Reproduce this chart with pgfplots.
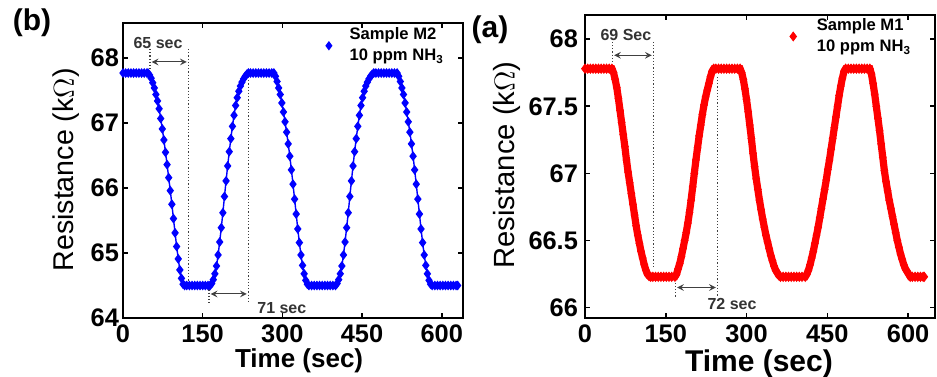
\documentclass[border=0pt]{standalone}
\usepackage{pgfplots}
\pgfplotsset{compat=1.18}
\usepackage{fontspec}
\setmainfont{Liberation Sans}
\newcommand\tickfont{\fontsize{12.7}{15}\selectfont\bfseries}
\newcommand\annfont{\fontsize{8}{9}\selectfont\bfseries}
\pgfplotsset{
  common/.style={
    scale only axis, clip=false,
    tick align=inside, major tick length=2.5pt,
    xtick={0,150,300,450,600},
    axis line style={line width=0.9pt},
    every tick/.style={black, line width=0.8pt},
    tick label style={font=\tickfont},
    /pgf/number format/assume math mode=true,
    legend style={draw=none, fill=none, inner sep=0pt, font=\fontsize{8.3}{9}\selectfont\bfseries},
    legend cell align=left,
  },
}
\tikzset{
  ann/.style={densely dotted, black!75, line width=0.6pt},
  arr/.style={<->, >=stealth, black!75, line width=0.5pt},
}
\begin{document}
\begin{tikzpicture}
\useasboundingbox (0,0) rectangle (468.5pt,188pt);
\node[font=\fontsize{15}{17}\selectfont\bfseries] at (16pt,176.5pt) {(b)};
\node[font=\fontsize{15}{17}\selectfont\bfseries] at (245pt,173pt) {(a)};
% ---------------- left panel (M2)
\begin{axis}[common,
  at={(61.5pt,29pt)}, anchor=south west,
  width=170pt, height=147.5pt,
  xmin=0, xmax=640, ymin=64, ymax=68.54,
  ytick={64,65,66,67,68},
  yticklabel style={xshift=1.5pt},
  xlabel={\bfseries Time (sec)},
  xlabel style={font=\fontsize{13}{15}\selectfont, at={(axis description cs:0.518,-0.145)}, anchor=center},
  ylabel={Resistance (k$\Omega$)},
  ylabel style={font=\fontsize{14.3}{16}\selectfont, at={(axis description cs:-0.166,0.502)}, anchor=center, rotate=0},
  legend style={at={(axis cs:378,68.19)}, anchor=west},
  legend image code/.code={\draw[#1, mark size=1.8pt] plot coordinates {(0pt,0pt)}; \path (-2pt,0pt) (8pt,0pt);},
]
\addplot[blue, line width=0.7pt, mark=diamond*, mark size=1.9pt, mark options={blue}] coordinates {
(0,67.77)(5,67.77)(10,67.77)(15,67.77)(20,67.77)(25,67.77)(30,67.77)(35,67.77)(40,67.77)(45,67.77)
(47,67.77)(50,67.74)(53,67.69)(56,67.62)(59,67.54)(62,67.44)(65,67.34)(68,67.22)(71,67.07)(74,66.91)(77,66.74)(80,66.55)(83,66.36)(86,66.16)(89,65.96)(92,65.75)(95,65.53)(98,65.31)(101,65.10)(104,64.91)(107,64.74)(110,64.61)(113,64.52)(116,64.50)
(120,64.50)(125,64.50)(130,64.50)(135,64.50)(140,64.50)(145,64.50)(150,64.50)(155,64.50)(160,64.50)
(164,64.50)(167,64.53)(170,64.59)(173,64.68)(176,64.80)(179,64.97)(182,65.17)(185,65.39)(188,65.62)(191,65.87)(194,66.11)(197,66.34)(200,66.56)(203,66.76)(206,66.95)(209,67.12)(212,67.27)(215,67.39)(218,67.49)(221,67.57)(224,67.63)(227,67.68)(230,67.72)(233,67.75)(236,67.77)
(240,67.77)(245,67.77)(250,67.77)(255,67.77)(260,67.77)(265,67.77)(270,67.77)(275,67.77)(280,67.77)
(284,67.77)(287,67.72)(290,67.64)(293,67.54)(296,67.44)(299,67.31)(302,67.17)(305,67.02)(308,66.86)(311,66.68)(314,66.49)(317,66.28)(320,66.06)(323,65.83)(326,65.60)(329,65.37)(332,65.16)(335,64.97)(338,64.81)(341,64.68)(344,64.58)(347,64.52)(350,64.50)
(355,64.50)(360,64.50)(365,64.50)(370,64.50)(375,64.50)(380,64.50)(385,64.50)(390,64.50)(395,64.50)
(400,64.50)(403,64.53)(406,64.59)(409,64.68)(412,64.80)(415,64.97)(418,65.17)(421,65.39)(424,65.62)(427,65.87)(430,66.11)(433,66.34)(436,66.56)(439,66.76)(442,66.95)(445,67.12)(448,67.27)(451,67.39)(454,67.49)(457,67.57)(460,67.63)(463,67.68)(466,67.72)(469,67.75)(472,67.77)
(476,67.77)(481,67.77)(486,67.77)(491,67.77)(496,67.77)(501,67.77)(506,67.77)(511,67.77)
(516,67.77)(519,67.72)(522,67.64)(525,67.54)(528,67.44)(531,67.31)(534,67.17)(537,67.02)(540,66.86)(543,66.68)(546,66.49)(549,66.28)(552,66.06)(555,65.83)(558,65.60)(561,65.37)(564,65.16)(567,64.97)(570,64.81)(573,64.68)(576,64.58)(579,64.52)(582,64.50)
(587,64.50)(592,64.50)(597,64.50)(602,64.50)(607,64.50)(612,64.50)(617,64.50)(622,64.50)(627,64.50)(630,64.50)
};
\addlegendentry{\shortstack[l]{Sample M2\\10 ppm NH\textsubscript{3}}}
\draw[ann] (axis cs:51,68.14) -- (axis cs:51,67.82);
\draw[ann] (axis cs:123,68.14) -- (axis cs:123,64.55);
\draw[arr] (axis cs:54,67.94) -- (axis cs:120,67.94);
\node[font=\annfont, text=black!80] at (axis cs:66,68.23) {65 sec};
\draw[ann] (axis cs:162,64.54) -- (axis cs:162,64.23);
\draw[ann] (axis cs:236,67.66) -- (axis cs:236,64.23);
\draw[arr] (axis cs:165,64.37) -- (axis cs:233,64.37);
\node[font=\annfont, text=black!80] at (axis cs:299,64.16) {71 sec};
\end{axis}
% ---------------- right panel (M1)
\begin{axis}[common,
  at={(292.5pt,29pt)}, anchor=south west,
  width=175pt, height=151.5pt,
  xmin=0, xmax=650, ymin=65.923, ymax=68.18,
  ytick={66,66.5,67,67.5,68},
  yticklabels={66,66.5,67,67.5,68},
  xlabel={\bfseries Time (sec)},
  xlabel style={font=\fontsize{15}{17}\selectfont, at={(axis description cs:0.497,-0.150)}, anchor=center},
  ylabel={Resistance (k$\Omega$)},
  ylabel style={font=\fontsize{14.6}{16}\selectfont, at={(axis description cs:-0.223,0.505)}, anchor=center},
  legend style={at={(axis cs:370,68.02)}, anchor=west},
  legend image code/.code={\draw[#1, mark size=2.2pt] plot coordinates {(0pt,0pt)}; \path (-2.5pt,0pt) (8pt,0pt);},
]
\addplot[red, line width=3.6pt, mark=diamond*, mark size=2.3pt, mark options={red, line width=0.4pt}] coordinates {
(0,67.78)(5,67.78)(10,67.78)(15,67.78)(20,67.78)(25,67.78)(30,67.78)(35,67.78)(40,67.78)(45,67.78)
(50,67.78)(53,67.75)(56,67.70)(59,67.64)(62,67.56)(65,67.47)(68,67.38)(71,67.29)(74,67.20)(77,67.10)(80,67.01)(83,66.93)(86,66.85)(89,66.77)(92,66.69)(95,66.61)(98,66.54)(101,66.48)(104,66.42)(107,66.37)(110,66.32)(113,66.28)(116,66.25)(119,66.235)(122,66.23)
(126,66.23)(131,66.23)(136,66.23)(141,66.23)(146,66.23)(151,66.23)(156,66.23)(161,66.23)
(167,66.23)(170,66.25)(173,66.29)(176,66.33)(179,66.38)(182,66.44)(185,66.50)(188,66.56)(191,66.63)(194,66.71)(197,66.80)(200,66.90)(203,67.00)(206,67.10)(209,67.19)(212,67.28)(215,67.36)(218,67.44)(221,67.51)(224,67.57)(227,67.62)(230,67.67)(233,67.72)(236,67.76)(239,67.78)
(243,67.78)(248,67.78)(253,67.78)(258,67.78)(263,67.78)(268,67.78)(273,67.78)(278,67.78)(283,67.78)
(288,67.78)(291,67.75)(294,67.70)(297,67.63)(300,67.55)(303,67.46)(306,67.36)(309,67.26)(312,67.15)(315,67.05)(318,66.96)(321,66.88)(324,66.80)(327,66.73)(330,66.66)(333,66.60)(336,66.54)(339,66.49)(342,66.44)(345,66.39)(348,66.35)(351,66.31)(354,66.28)(357,66.26)(360,66.24)(363,66.23)
(368,66.23)(373,66.23)(378,66.23)(383,66.23)(388,66.23)(393,66.23)(398,66.23)(403,66.23)
(409,66.23)(412,66.25)(415,66.28)(418,66.32)(421,66.37)(424,66.42)(427,66.48)(430,66.54)(433,66.60)(436,66.67)(439,66.74)(442,66.81)(445,66.88)(448,66.95)(451,67.03)(454,67.10)(457,67.18)(460,67.26)(463,67.34)(466,67.42)(469,67.50)(472,67.58)(475,67.65)(478,67.71)(481,67.76)(484,67.78)
(489,67.78)(494,67.78)(499,67.78)(504,67.78)(509,67.78)(514,67.78)(519,67.78)(524,67.78)
(529,67.78)(532,67.74)(535,67.67)(538,67.59)(541,67.50)(544,67.41)(547,67.32)(550,67.22)(553,67.12)(556,67.02)(559,66.94)(562,66.87)(565,66.80)(568,66.74)(571,66.68)(574,66.62)(577,66.56)(580,66.50)(583,66.45)(586,66.40)(589,66.36)(592,66.32)(595,66.29)(598,66.27)(601,66.25)(604,66.23)
(608,66.23)(613,66.23)(618,66.23)(623,66.23)(628,66.23)(630,66.23)
};
\addlegendentry{\shortstack[l]{Sample M1\\10 ppm NH\textsubscript{3}}}
\draw[ann] (axis cs:51,67.98) -- (axis cs:51,67.82);
\draw[ann] (axis cs:127,67.98) -- (axis cs:127,66.30);
\draw[arr] (axis cs:54,67.88) -- (axis cs:124,67.88);
\node[font=\annfont, text=black!80] at (axis cs:76,68.03) {69 Sec};
\draw[ann] (axis cs:168,66.21) -- (axis cs:168,66.08);
\draw[ann] (axis cs:246,67.72) -- (axis cs:246,66.08);
\draw[arr] (axis cs:171,66.15) -- (axis cs:243,66.15);
\node[font=\annfont, text=black!80] at (axis cs:273,66.03) {72 sec};
\end{axis}
\end{tikzpicture}
\end{document}
